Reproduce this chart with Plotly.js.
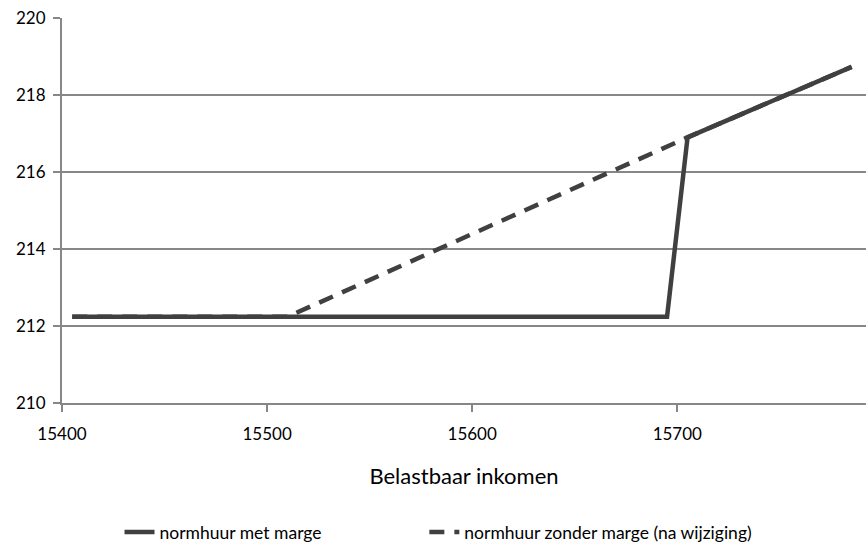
<!DOCTYPE html>
<html>
<head>
<meta charset="utf-8">
<script src="https://cdn.plot.ly/plotly-3.0.1.min.js"></script>
<style>html,body{margin:0;padding:0;background:#fff;}#chart{width:866px;height:543px;}</style>
</head>
<body>
<div id="chart"></div>
<script>
// Data
const metMargeX = [15405, 15695, 15705, 15785];
const metMargeY = [212.24, 212.24, 216.9, 218.73];
const zonderMargeX = [15405, 15510, 15705, 15785];
const zonderMargeY = [212.24, 212.24, 216.9, 218.73];
const xTicks = [15400, 15500, 15600, 15700];
const yTicks = [210, 212, 214, 216, 218, 220];
const seriesNames = ["normhuur met marge", "normhuur zonder marge (na wijziging)"];

const font = "Lato, 'Open Sans', sans-serif";
const lineColor = "#404040";
const gridColor = "#878787";

const traces = [
  {x: zonderMargeX, y: zonderMargeY, name: seriesNames[1], mode: "lines",
   line: {color: lineColor, width: 4.5, dash: "15px,10px"}, legend: "legend2"},
  {x: metMargeX, y: metMargeY, name: seriesNames[0], mode: "lines",
   line: {color: lineColor, width: 4.5}, legend: "legend"}
];

const legendCommon = {orientation: "h", xref: "container", yref: "container",
  xanchor: "left", y: 0.02, yanchor: "middle", font: {size: 17.5, family: font}};

const layout = {
  width: 866, height: 543,
  margin: {l: 62, r: 0, t: 18, b: 140, autoexpand: false},
  paper_bgcolor: "#fff", plot_bgcolor: "#fff",
  font: {family: font, color: "#000", size: 17},
  xaxis: {
    range: [15400, 15792], tickvals: xTicks, ticktext: xTicks.map(String),
    showgrid: false, zeroline: false, automargin: false,
    showline: true, linecolor: gridColor, linewidth: 2,
    ticks: "outside", ticklen: 7, tickwidth: 2, tickcolor: gridColor,
    tickfont: {size: 17, family: font}, ticklabelstandoff: 8,
    title: {text: "Belastbaar inkomen", font: {size: 22, family: font}, standoff: 25}
  },
  yaxis: {
    range: [210, 220], tickvals: yTicks, ticktext: yTicks.map(String),
    showgrid: true, gridcolor: gridColor, gridwidth: 2, zeroline: false, automargin: false,
    showline: true, linecolor: gridColor, linewidth: 2,
    ticks: "outside", ticklen: 7, tickwidth: 2, tickcolor: gridColor,
    tickfont: {size: 17, family: font}, ticklabelstandoff: 4
  },
  legend: Object.assign({}, legendCommon, {x: 0.138}),
  legend2: Object.assign({}, legendCommon, {x: 0.49}),
  showlegend: true
};

Plotly.newPlot("chart", traces, layout, {displayModeBar: false, staticPlot: true});
</script>
</body>
</html>
